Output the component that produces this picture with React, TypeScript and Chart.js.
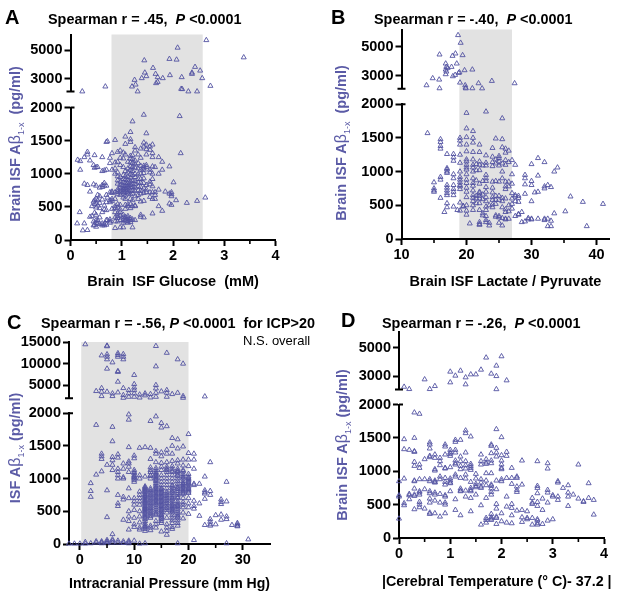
import React, { useEffect, useRef } from "react";
import { Chart, registerables } from "chart.js";

Chart.register(...registerables);

type Column = [number, number[]];
type Pt = [number, number];

const FONT = '"Liberation Sans", Arial, sans-serif';
const INK = "#5252a2";
const TEXT_INK = "#5b5ba6";
const SHADE = "#e2e2e2";

// Panel A: glucose (mM) vs A-beta
const glucoseUpper: Pt[] = [[0.23,2120],[0.68,2465],[1.2,2465],[1.27,2600],[1.31,2120],[1.25,2930],[1.39,3050],[1.44,4300],[1.45,3440],[1.48,3190],[1.61,3770],[1.66,3350],[1.7,3120],[1.67,2700],[1.7,2790],[1.8,3050],[1.94,3260],[1.93,4400],[2.07,4350],[2.09,5190],[2.17,3120],[2.16,2300],[2.18,2280],[2.3,2120],[2.37,3350],[2.37,3440],[2.43,3840],[2.47,2120],[2.53,3580],[2.57,3050],[2.65,5720],[2.73,2510],[3.38,4510]];
const glucoseLower: Column[] = [
  [0.13,[250]],[0.14,[1210]],[0.18,[420]],[0.19,[1190,1060]],[0.24,[145]],[0.27,[1250,850,250]],[0.33,[1330,1290,830,150]],[0.38,[1200,350,730]],[0.42,[510,360]],
  [0.45,[1130,840,580,280,220]],[0.47,[1280,1090,600,540,410,230]],[0.5,[1100,820,620,550,490,380,300,260,200]],[0.53,[1100,680,600,520,300,250]],[0.57,[790,660,560,480,340,240]],
  [0.62,[1250,1040,800,830,610,420,250,220]],[0.66,[1050,860,820,520,460,240,220]],[0.7,[1480,1060,820,680,570,450,300,230]],[0.72,[1490,640,300]],[0.77,[1240,1160,720,600,570,310,280,260]],
  [0.81,[1310,1060,730,710,620,590,470]],[0.87,[1510,1170,1080,1000,720,620,510,480,420,340,280,180]],[0.92,[1330,1180,1020,960,900,850,760,730,690,540,490,400,360,330,280]],
  [0.97,[1350,1240,1130,950,880,830,790,750,720,680,530,460,420,370,300,190]],[1.03,[1320,1230,1100,980,920,870,820,780,760,730,700,640,380,340,300,260,190]],
  [1.07,[1560,1450,1290,1040,960,910,860,820,790,760,720,670,620,530,470,350,310,280]],[1.12,[1180,1080,1020,950,900,860,820,790,750,720,700,540,510,360,330,290,260]],
  [1.17,[1630,1520,1480,1270,1230,1170,1110,1060,1000,940,880,830,790,740,690,620,540,480,330,300,270]],[1.21,[1790,1280,1220,1160,1100,1040,980,900,850,800,750,700,600,510,190,310]],
  [1.26,[1400,1350,1200,1140,1090,1000,950,890,840,790,740,660,520,510,300]],[1.32,[1290,1160,1080,990,920,870,810,750,680,620]],[1.37,[1380,1240,1120,1060,1000,920,860,800,740,700,580,380,350]],
  [1.43,[1890,1470,1410,1120,1090,1060,1010,930,860,780,710,590,340]],[1.48,[1610,1440,1370,1290,1130,1100,830,760,720]],[1.55,[1410,1360,1060,1020,880,840,720,650]],
  [1.6,[1440,1310,1250,1110,1000,920,810,720,620,400]],[1.65,[1100,720,620,680]],[1.72,[1250,1000,760,510]],[1.79,[1180,1060,440]],[1.85,[730]],[1.93,[1110,700,550]],[1.97,[720,690,660,530]],
  [2.01,[870]],[2.06,[600]],[2.13,[1870]],[2.15,[1310]],[2.27,[560]],[2.47,[590]],[2.63,[640]],
];

// Panel B: lactate / pyruvate vs A-beta
const ratioUpper: Pt[] = [[13.85,2333],[14.8,2816],[15.8,2724],[15.85,2126],[15.85,4449],[16.8,3828],[16.9,3598],[16.8,3414],[16.9,3276],[16.8,3092],[17.1,3529],[17.7,3598],[17.9,2954],[17.85,4357],[18.3,4518],[18.25,3046],[18.5,3828],[18.8,3184],[18.9,3230],[18.7,5783],[19.1,5254],[19.4,4403],[19,2517],[19.7,3368],[19.8,2333],[19.85,2172],[19.9,2120],[20.9,2126],[20.9,3414],[21.85,2471],[22.4,2120],[23.9,2632],[27.4,2471]];
const ratioLower: Column[] = [
  [14,[1570]],[15,[840,750,720,700]],[16,[1480,1440,1380,1340,920,880,610]],[16.6,[400]],[17,[1260,1050,1030,1000,980,800,760,720,680,650,530,470]],[18,[1260,1210,1160,960,900,800,740,700,650,480]],[18.6,[430]],
  [19,[1500,1460,1400,1250,1130,1000,920,880,840,800,780,740,540,420]],[19.5,[480,490]],[20,[1870,1640,1510,1400,1300,1180,1150,1100,1060,1030,960,880,830,760,700,620,500,420,360]],[20.5,[230]],
  [21,[1600,1500,1430,1290,1180,1100,1060,1000,900,830,790,720,650,610,560,500,430]],[21.5,[1110,1020,870,640,600,530]],[22,[1400,1290,1150,1100,1020,820,700,680,640,600,530,430,250,220,210]],[22.5,[1090,860,660,590,380,350]],
  [23,[1890,1240,1130,1090,950,900,860,770,700,620,560,480,430,340,280,250]],[23.5,[500,240,200]],[24,[1350,1220,1140,1080,850,760,690,620,580,510,470]],[24.5,[1490,1180,1120,860,640,580,520,350,330]],
  [25,[1230,1200,1150,1090,850,640,580,340,320,240]],[25.5,[1790,1480,1360,1120,1000,900,610,560,470,310,200]],[26,[1340,1280,1170,1100,850,780,740,600,440,400,300,290]],[26.5,[1310,1140,850,780,500,410,300]],
  [27,[1170,960,820,680,600,520,450]],[27.5,[1100,650,630,560,340]],[28,[640,610,550,360,370]],[28.5,[400,250]],[29,[950,900,810,670,260]],[29.5,[290,310]],[30,[1110,860,800,560,300,290]],[30.5,[690]],
  [31,[1200,940,700,300]],[32,[1140,780,750,300,280]],[32.5,[800,300,190]],[33,[770,270,190]],[33.5,[1000,380]],[34,[1060]],[35.2,[410]],[36,[630]],[37.9,[550]],[38.5,[190]],[41,[520]],
];

// Panel C: intracranial pressure vs A-beta
const icpUpper: Column[] = [
  [1,[14460]],[3,[3700]],[4,[11900,4380,3540,2540]],[5,[14150,14000,12150,11600,11000,8850,3540]],[6,[10300,3150,2540]],[7,[12400,12000,11600,8300,8100,5850,3380]],[8,[12200,11600,11000,4380,2770,2150]],
  [9,[3920,3150,2380]],[10,[7400,5300,4500,3900,3150,2380]],[11,[2900,2200]],[12,[3150,2700]],[13,[3000,2230]],[14,[14070,9380,5080,4300,3300,2380]],[15,[3620]],[16,[12500,3920,3300,2380]],
  [17,[3000]],[18,[11000,3300]],[19,[10000,2540,2150]],[23,[2460]],
];
const icpLower: Column[] = [
  [-2,[5]],[-1,[5]],[0,[5]],[1,[30,5]],[2,[930,810,720,10]],[3,[1820,1060,40,20]],[4,[1380,1340,1300,1110,40,25,10]],[5,[1210,820,410,60,40,30,10]],[6,[1790,1570,1330,1280,1210,1130,150,70,50,20]],[7,[1370,1320,1150,1100,1050,1000,750,620,580,50,20]],
  [8,[1230,1150,1020,1000,720,680,370,40,15]],[9,[1980,1900,1480,1260,1230,1180,1100,850,700,500,420,350,220,50,30,10]],[10,[1350,1310,1100,1050,1000,950,700,650,600,520,400,300,260,50]],
  [11,[1470,1050,1000,800,750,700,650,600,500,420,330,250,220,5]],[12,[1480,1030,880,850,820,790,750,720,680,650,620,580,550,520,480,440,400,350,280,230,200,10]],
  [13,[1880,1470,1300,1170,1100,1050,850,800,750,700,650,600,550,500,450,400,280,250,210]],[14,[1950,1420,1380,1250,1130,1100,1060,1020,980,930,880,840,800,760,720,680,640,600,540,480,440,350,300,250]],
  [15,[1850,1780,1400,1340,1240,1180,1130,1050,860,820,780,740,700,660,620,580,540,500,450,400,320,190]],[16,[1800,1440,1380,1250,1180,1130,1100,1050,1000,800,750,700,650,600,520,480,400,300,250,200,140]],
  [17,[1620,1500,1380,1270,1190,1100,1050,950,880,820,780,720,680,620,580,540,500,400,260,230]],[18,[1600,1460,1280,1230,1120,1090,1040,960,880,840,780,720,650,600,560,500,440,400,280,10]],
  [19,[1490,1290,1200,1110,1070,1020,960,920,880,840,800,760,700,640,600,560,480,390]],[20,[1680,1390,1290,1190,1070,1030,990,950,910,860,820,780,700,620,560,460]],
  [21,[1380,1290,1150,920,900,660,580,540,60]],[22,[920,620,430]],[23,[1030,820,790,770,690,290]],[24,[1250,810,750,380,340,300,280]],[25,[440,300]],[26,[680,640,610,450,370]],[27,[950,650,420,380,10]],[28,[290]],[29,[320,300,280,270]],[31,[70]],
];
// the solid stacks in the densest columns of panel C
const icpOverlap: Column[] = [
  [10,[1130,1080,1030,1020,980]],[12,[865,835,805,765,735,705,665,635,600,565,535,500,460,420,380,310,270,250]],[13,[1130,1040,1000,825,775,725,675,625,575,525,475,425]],
  [14,[1160,1080,1040,1000,960,905,860,820,780,740,700,660,620,570,510,460]],[15,[1000,950,900,840,800,760,720,680,640,600,560,520,480,440,420,380,350]],[16,[1150,950,900,850,775,725,675,625,570,550]],
  [17,[1150,1120,1000,900,850,800,750,700,650,600,560,520,480,440,360,320]],[18,[1150,1110,1060,1000,920,860,810,750,700,620,580,530,470,420,360,320]],[19,[1130,1040,1000,930,900,860,820,780]],[20,[1010,970,930,880,840,800]],
];

// Panel D: temperature deviation vs A-beta
const tempUpper: Pt[] = [[0.1,2270],[0.2,2110],[0.5,2790],[0.6,2110],[0.7,2320],[1,3330],[1,2580],[1.1,3050],[1.2,3400],[1.3,2930],[1.3,2440],[1.4,3140],[1.5,3140],[1.6,3470],[1.7,4320],[1.8,3190],[1.9,3750],[1.9,3020],[1.9,2100],[2,4410],[2.1,2720]];
const tempLower: Column[] = [
  [0,[850,620,640,290]],[0.1,[1480,1330,890,520,490]],[0.2,[1320,660,640,580]],[0.3,[1880,1500,1300,1290,1140,1080,860,850,740,650,630,430]],[0.4,[1860,1100,1050,880,700,680,650,540,500,460]],[0.5,[1180,880,730,440]],
  [0.6,[1430,1400,1340,1230,1210,880,850,700,670,590,530,380,360]],[0.7,[1250,1200,1030,1010,860,840,830,680,650,560,370]],[0.8,[1200,1150,1090,920,880,660,530,320]],[0.9,[1400,1370,1250,1050,1040,900,840,800,640,620,530,500,370]],
  [1,[1320,1280,1260,1230,1060,890,860,830,820,700]],[1.1,[1470,1440,1320,1280,1160,1120,1100,950,920,580,420]],[1.2,[1470,1220,1150,1080,1030,900,740,700,710,340]],[1.3,[1610,1570,1280,1150,1090,1040,950,890,710,620]],
  [1.4,[1520,1110,1080,1050,1020,840,750,720,700,600,400]],[1.5,[960,890,810,780,760,650]],[1.6,[1250,1150,1100,880,830,770,750,490,200]],[1.7,[1180,1130,1110,970,860,790,600,300,270,230]],
  [1.8,[1400,1380,1270,1160,1120,970,800,780,740,690,650,360,310,290,270]],[1.9,[1630,1350,1280,1220,860,730,510,440,320,300,210]],[2,[1510,1240,1160,1100,1050,1030,880,850,370,250]],[2.1,[1290,1230,900,620,470,230]],
  [2.2,[1050,900,810,510,450,340,220]],[2.3,[920,900,770,720,690,410]],[2.4,[1160,800,420,310,240]],[2.5,[400,300,280]],[2.6,[600,530,510,300,200]],[2.7,[1150,780,750,670,540,480,280,260,220,200]],[2.8,[590,420,210]],
  [2.9,[1120,1040,720,680,530,260]],[3,[640,620,280]],[3.1,[850,830,620,570]],[3.2,[750]],[3.3,[790,680,620,480]],[3.4,[650]],[3.5,[1100,590]],[3.6,[550,540]],[3.7,[820,600]],[3.8,[570,350]],
];

const lowerTicks = [0, 500, 1000, 1500, 2000];

const flat = (cols: Column[]) => cols.flatMap(([x, ys]) => ys.map((y) => ({ x, y })));
const pts = (p: Pt[]) => p.map(([x, y]) => ({ x, y }));

const overlayPlugin = {
  id: "overlay",
  beforeDraw(chart: any, _a: any, o: any) {
    const { ctx, chartArea, scales } = chart;
    if (o.shade) {
      const l = scales.x.getPixelForValue(o.shade[0]);
      const r = scales.x.getPixelForValue(o.shade[1]);
      ctx.save();
      ctx.fillStyle = SHADE;
      ctx.fillRect(l, chartArea.top, r - l, chartArea.bottom - chartArea.top);
      ctx.restore();
    }
  },
  afterDatasetsDraw(chart: any, _a: any, o: any) {
    const { ctx, chartArea, scales } = chart;
    ctx.save();
    ctx.strokeStyle = "#000";
    ctx.lineWidth = 1.6;
    for (const v of o.minor) {
      const x = scales.x.getPixelForValue(v);
      ctx.beginPath();
      ctx.moveTo(x, chartArea.bottom);
      ctx.lineTo(x, chartArea.bottom + 4);
      ctx.stroke();
    }
    // the two ends of the axis break cross the axis line
    const ax = chartArea.left;
    ctx.lineWidth = 2;
    ctx.beginPath();
    ctx.moveTo(ax - 4, scales.yUpper.getPixelForValue(o.breakValue));
    ctx.lineTo(ax + 4, scales.yUpper.getPixelForValue(o.breakValue));
    ctx.moveTo(ax, scales.yLower.getPixelForValue(2000));
    ctx.lineTo(ax + 4, scales.yLower.getPixelForValue(2000));
    ctx.stroke();
    ctx.restore();
  },
};

type PanelSpec = {
  left: number; right: number; top: number; bottom: number;
  breakTop: number; breakBottom: number;
  xMin: number; xMax: number; xTicks: number[]; xMinor: number[];
  yMin: number; yMax: number; yTicks: number[];
  shade: number[] | null;
  upper: { x: number; y: number }[];
  lower: { x: number; y: number }[];
  xTitle: string | null; xH: number;
};

const panels: PanelSpec[] = [
  { left: 70.5, right: 275.5, top: 34.5, bottom: 240, breakTop: 107.5, breakBottom: 91.5, xMin: 0, xMax: 4, xTicks: [0,1,2,3,4], xMinor: [0.5,1.5,2.5,3.5], yMin: 2116, yMax: 6117, yTicks: [3000,5000], shade: [0.8,2.58], upper: pts(glucoseUpper), lower: flat(glucoseLower), xTitle: "Brain  ISF Glucose  (mM)", xH: 53 },
  { left: 401.5, right: 609.5, top: 29.5, bottom: 238.5, breakTop: 104, breakBottom: 88.5, xMin: 10, xMax: 42, xTicks: [10,20,30,40], xMinor: [15,25,35], yMin: 2103, yMax: 6172, yTicks: [3000,5000], shade: [18.9,27], upper: pts(ratioUpper), lower: flat(ratioLower), xTitle: "Brain ISF Lactate / Pyruvate", xH: 54 },
  { left: 69, right: 270, top: 342, bottom: 543.5, breakTop: 413, breakBottom: 398, xMin: -2, xMax: 35, xTicks: [0,10,20,30], xMinor: [5,15,25], yMin: 2077, yMax: 15000, yTicks: [5000,10000,15000], shade: [0.25,20], upper: flat(icpUpper), lower: [...flat(icpLower), ...flat(icpOverlap)], xTitle: "Intracranial Pressure (mm Hg)", xH: 51 },
  { left: 399, right: 604, top: 331.5, bottom: 538, breakTop: 404.5, breakBottom: 389.5, xMin: 0, xMax: 4, xTicks: [0,1,2,3,4], xMinor: [0.5,1.5,2.5,3.5], yMin: 2081, yMax: 6152, yTicks: [3000,5000], shade: null, upper: pts(tempUpper), lower: flat(tempLower), xTitle: null, xH: 40 },
];

const Y_W = 60;
const PAD_T = 12;
const PAD_R = 10;

function Panel({ s }: { s: PanelSpec }) {
  const ref = useRef<HTMLCanvasElement>(null);
  const cl = Math.floor(s.left - Y_W);
  const ct = Math.floor(s.top - PAD_T);
  const w = Math.ceil(s.right + PAD_R) - cl;
  const h = Math.ceil(s.bottom + s.xH) - ct;
  useEffect(() => {
    const fixW = (sc: any) => { sc.width = Y_W; };
    const tickFont = { family: FONT, size: 14.5, weight: "bold" as const };
    const ds = (data: any[], yAxisID: string) => ({
      data, yAxisID, xAxisID: "x", showLine: false, pointStyle: "triangle", pointRadius: 2.9,
      pointBorderWidth: 0.9, pointBorderColor: INK, pointBackgroundColor: "rgba(0,0,0,0)", clip: false as const,
    });
    const yCommon = {
      type: "linear" as const, position: "left" as const, stack: "y", afterFit: fixW,
      border: { display: true, width: 2, color: "#000" },
    };
    const yGrid = { drawOnChartArea: false, drawTicks: true, tickLength: 6, tickWidth: 2 };
    const yTicksOpt = { color: "#000", font: tickFont, padding: 2, autoSkip: false };
    const chart = new Chart(ref.current!, {
      type: "scatter",
      data: { datasets: [ds(s.upper, "yUpper"), ds(s.lower, "yLower")] },
      plugins: [overlayPlugin],
      options: {
        animation: false, responsive: false, maintainAspectRatio: false,
        layout: {
          padding: { left: s.left - Y_W - cl, top: s.top - ct, right: w - (s.right - cl), bottom: 0 },
        },
        plugins: {
          legend: { display: false }, tooltip: { enabled: false }, title: { display: false },
          overlay: { shade: s.shade, minor: s.xMinor, breakValue: s.yMin },
        } as any,
        scales: {
          x: {
            type: "linear", min: s.xMin, max: s.xMax, position: "bottom",
            afterBuildTicks: (sc: any) => { sc.ticks = s.xTicks.map((value) => ({ value })); },
            afterFit: (sc: any) => { sc.height = s.xH; },
            grid: { drawOnChartArea: false, drawTicks: true, tickLength: 6, tickWidth: 2, tickColor: "#000" },
            border: { display: true, width: 2, color: "#000" },
            ticks: { color: "#000", font: tickFont, padding: 1, maxRotation: 0 },
            title: { display: !!s.xTitle, text: s.xTitle ?? "", color: "#000", font: { family: FONT, size: 14.5, weight: "bold" }, padding: { top: 0, bottom: 2 } },
          },
          yLower: {
            ...yCommon, min: 0, max: 2000, stackWeight: s.bottom - s.breakTop, weight: 1,
            grid: { ...yGrid, tickColor: "#000" },
            afterBuildTicks: (sc: any) => { sc.ticks = lowerTicks.map((value) => ({ value })); },
            ticks: { ...yTicksOpt, callback: (v: any) => String(v) },
          },
          yGap: { type: "linear", position: "left", stack: "y", display: false, stackWeight: s.breakTop - s.breakBottom, weight: 2 },
          yUpper: {
            ...yCommon, min: s.yMin, max: s.yMax, stackWeight: s.breakBottom - s.top, weight: 3,
            grid: { ...yGrid, tickColor: (c: any) => (c.tick && c.tick.value === s.yMin ? "rgba(0,0,0,0)" : "#000") },
            afterBuildTicks: (sc: any) => { sc.ticks = [s.yMin, ...s.yTicks].map((value) => ({ value })); },
            ticks: { ...yTicksOpt, callback: (v: any) => (s.yTicks.includes(v) ? String(v) : "") },
          },
        },
      } as any,
    });
    return () => chart.destroy();
  }, []);
  return <canvas ref={ref} width={w} height={h} style={{ position: "absolute", left: cl, top: ct, width: w, height: h }} />;
}

const abs = (x: number, y: number, extra: any = {}): any => ({
  position: "absolute", left: x, top: y, transform: "translateY(-50%)", whiteSpace: "pre", fontFamily: FONT, fontWeight: "bold", ...extra,
});

function YTitle({ x, y, pre, post }: { x: number; y: number; pre: string; post: string }) {
  return (
    <div style={{ position: "absolute", left: x, top: y, transform: "translate(-50%,-50%) rotate(-90deg)", whiteSpace: "pre", fontFamily: FONT, fontWeight: "bold", fontSize: 14.5, lineHeight: "18px", color: TEXT_INK }}>
      {pre}<span style={{ fontWeight: "normal", fontSize: 16 }}>β</span><sub style={{ fontSize: 9, fontWeight: "normal", lineHeight: 0 }}>1-x</sub>{post}
    </div>
  );
}

function Stat({ x, y, r, gap, tail }: { x: number; y: number; r: string; gap: string; tail?: string }) {
  return (
    <div style={abs(x, y, { fontSize: 14.4 })}>
      {`Spearman r = ${r},${gap}`}<i>P</i>{" <0.0001"}{tail}
    </div>
  );
}

export default function App() {
  return (
    <div style={{ position: "absolute", left: 0, top: 0, width: 618, height: 601, background: "#fff", overflow: "hidden" }}>
      {panels.map((s, i) => <Panel key={i} s={s} />)}
      <div style={abs(5, 17, { fontSize: 20 })}>A</div>
      <div style={abs(331, 17, { fontSize: 20 })}>B</div>
      <div style={abs(7, 322, { fontSize: 20 })}>C</div>
      <div style={abs(341, 320, { fontSize: 20 })}>D</div>
      <Stat x={48} y={19} r=".45" gap="  " />
      <Stat x={374} y={19} r="-.40" gap="  " />
      <Stat x={41} y={323} r="-.56" gap=" " tail="  for ICP>20" />
      <Stat x={382} y={323} r="-.26" gap="  " />
      <div style={abs(243, 340, { fontSize: 13, fontWeight: "normal" })}>N.S. overall</div>
      <div style={abs(382, 581, { fontSize: 14.3, color: "#000" })}>|Cerebral Temperature (° C)- 37.2 |</div>
      <YTitle x={15} y={144} pre="Brain ISF A" post="  (pg/ml)" />
      <YTitle x={341} y={143} pre="Brain ISF A" post="  (pg/ml)" />
      <YTitle x={15} y={448} pre="ISF A" post=" (pg/ml)" />
      <YTitle x={342} y={445} pre="Brain ISF A" post=" (pg/ml)" />
    </div>
  );
}
